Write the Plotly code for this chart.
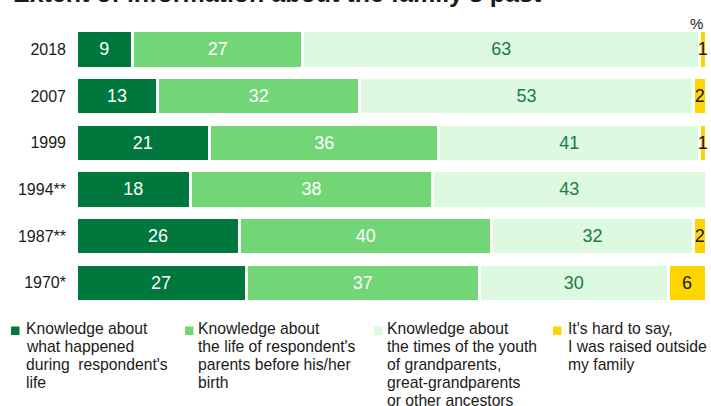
import plotly.graph_objects as go

years = ["2018", "2007", "1999", "1994**", "1987**", "1970*"]
during_life = [9, 13, 21, 18, 26, 27]
parents_life = [27, 32, 36, 38, 40, 37]
ancestors = [63, 53, 41, 43, 32, 30]
hard_to_say = [1, 2, 1, None, 2, 6]

series_names = [
    ["Knowledge about", "what happened", "during  respondent's", "life"],
    ["Knowledge about", "the life of respondent's", "parents before his/her", "birth"],
    ["Knowledge about", "the times of the youth", "of grandparents,", "great-grandparents", "or other ancestors"],
    ["It's hard to say,", "I was raised outside", "my family"],
]
colors = ["#00773C", "#72D576", "#DDF9DF", "#FFD500"]
text_colors = ["#FFFFFF", "#FFFFFF", "#1B7A45", "#1A1A1A"]
title_text = "Extent of information about the family's past"

W, H = 711, 406
L, R, T, B = 76, 5, 26, 100
PW, PH = W - L - R, H - T - B

def px(x):
    return (x - L) / PW

def py(y):
    return 1 - (y - T) / PH

FONT = "Arial, Liberation Sans, sans-serif"

fig = go.Figure()
for vals, name, col, tcol in zip([during_life, parents_life, ancestors, hard_to_say],
                                 series_names, colors, text_colors):
    fig.add_trace(go.Bar(
        y=years, x=vals, orientation="h", name=" ".join(name),
        marker=dict(color=col, line=dict(color="white", width=3)),
        text=["" if v is None else str(v) for v in vals],
        texttemplate="%{text}",
        textposition="inside", insidetextanchor="middle",
        textangle=0, constraintext="none", cliponaxis=False,
        textfont=dict(family=FONT, size=18, color=tcol),
        hoverinfo="skip", showlegend=False,
    ))

fig.update_layout(
    width=W, height=H, margin=dict(l=L, r=R, t=T, b=B, pad=0),
    barmode="stack", barnorm="percent", bargap=0.2,
    paper_bgcolor="white", plot_bgcolor="white",
    font=dict(family=FONT, color="#1A1A1A"),
    xaxis=dict(visible=False, range=[0, 100], fixedrange=True),
    yaxis=dict(autorange="reversed", showgrid=False, showline=False, zeroline=False,
               ticks="", ticklabelstandoff=9,
               tickfont=dict(family=FONT, size=16, color="#1A1A1A")),
)

annotations = [
    dict(text="<b>" + title_text + "</b>", xref="paper", yref="paper",
         x=px(11), y=1, xanchor="left", yanchor="middle", yshift=33.5,
         showarrow=False, font=dict(family=FONT, size=25, color="#1A1A1A")),
    dict(text="%", xref="paper", yref="paper", x=px(705), y=py(23),
         xanchor="right", yanchor="middle", showarrow=False,
         font=dict(family=FONT, size=15, color="#1A1A1A")),
]
shapes = []
sq_x = [11, 185, 374, 553]
tx_x = [24, 196, 385, 566]
for i, lines in enumerate(series_names):
    shapes.append(dict(type="rect", xref="paper", yref="paper",
                       x0=px(sq_x[i]), x1=px(sq_x[i] + 8.5),
                       y0=py(335), y1=py(326.5),
                       fillcolor=colors[i], line=dict(width=0)))
    for k, line in enumerate(lines):
        annotations.append(dict(text=line, xref="paper", yref="paper",
                                x=px(tx_x[i]), y=py(328.8 + 17.8 * k),
                                xanchor="left", yanchor="middle", showarrow=False,
                                font=dict(family=FONT, size=15.7, color="#1A1A1A")))

fig.update_layout(annotations=annotations, shapes=shapes)
fig.write_html("out.html")
